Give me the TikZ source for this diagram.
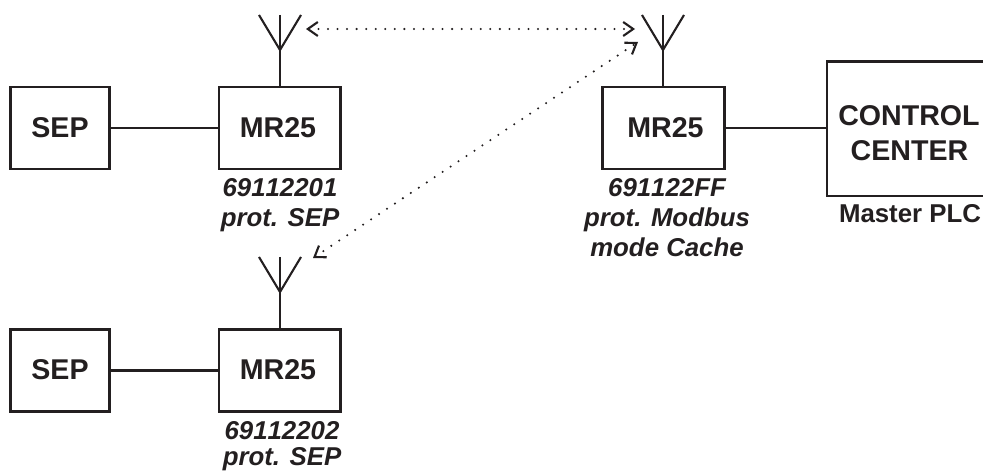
\documentclass[tikz,border=0pt]{standalone}
\usepackage{fontspec}
\setmainfont[Kerning=Off]{Liberation Sans}
\usetikzlibrary{arrows.meta}
\definecolor{ink}{HTML}{231F20}
\tikzset{
  px/.style={x=1bp,y=-1bp},
  wire/.style={draw=ink,line width=2.1bp},
  unit/.style={wire,inner sep=0pt,outer sep=0pt,anchor=north west},
  boxtext/.style={text=ink,font=\fontsize{28.6bp}{32bp}\selectfont\bfseries,inner sep=0pt,anchor=base},
  idtext/.style={text=ink,font=\fontsize{25.8bp}{29bp}\selectfont\bfseries\itshape,inner sep=0pt,anchor=base},
  plctext/.style={text=ink,font=\fontsize{25.8bp}{29bp}\selectfont\bfseries,inner sep=0pt,anchor=base},
  radio/.style={draw=ink,line width=2.3bp,line cap=round,dash pattern=on 0pt off 9.55bp,
    {Straight Barb[length=10bp,width=14bp,line width=2.1bp]}-{Straight Barb[length=10bp,width=14bp,line width=2.1bp]}},
}
\newcommand{\antenna}[3]{% name, x, base y
  \coordinate (#1base) at (#2,#3);
  \coordinate (#1top) at (#2,#3-35);
  \coordinate (#1l) at (#2-21,#3-35);
  \coordinate (#1r) at (#2+21,#3-35);
  \draw[wire] (#1l) -- (#1base) -- (#1r);
  \draw[wire] (#1top) -- (#1base);
}
\begin{document}
\begin{tikzpicture}[px]
\clip (0,0) rectangle (983,471);
\fill[white] (0,0) rectangle (983,471);
% boxes
\node[unit,minimum width=99bp,minimum height=82bp] (sepA) at (10.5,87) {};
\node[unit,minimum width=121.5bp,minimum height=82bp] (mrA) at (219,87) {};
\node[unit,minimum width=99bp,minimum height=82bp] (sepB) at (10.5,329.5) {};
\node[unit,minimum width=121.5bp,minimum height=82bp] (mrB) at (219,329.5) {};
\node[unit,minimum width=122bp,minimum height=82bp] (mrC) at (602.5,87) {};
\node[unit,minimum width=170bp,minimum height=134.5bp] (cc) at (827,61.5) {};
% antennas
\antenna{antA}{280}{50}
\antenna{antB}{280}{292}
\antenna{antC}{663}{50}
\draw[wire] (antAbase) -- (mrA.north west -| antAbase);
\draw[wire] (antBbase) -- (mrB.north west -| antBbase);
\draw[wire] (antCbase) -- (mrC.north west -| antCbase);
% links
\draw[wire] (sepA.east) -- (mrA.west);
\draw[wire] (sepB.east) -- (mrB.west);
\draw[wire] (mrC.east) -- (mrC.east -| cc.west);
% radio paths
\coordinate (r1) at (306,29);
\coordinate (r2) at (635,29);
\coordinate (r3) at (638,42);
\coordinate (r4) at (313,258);
\draw[radio] (r1) -- (r2);
\draw[radio] (r4) -- (r3);
% texts
\node[boxtext] (t1) at (60,138) {SEP};
\node[boxtext] (t2) at (278,138) {MR25};
\node[boxtext] (t3) at (60,379.5) {SEP};
\node[boxtext] (t4) at (278,379.5) {MR25};
\node[boxtext] (t5) at (665.5,138) {MR25};
\node[boxtext] (t6) at (909,126) {CONTROL};
\node[boxtext] (t7) at (909.5,160.5) {CENTER};
\node[plctext] (t8) at (910,222.5) {Master PLC};
\node[idtext] (i1) at (280,197) {69112201};
\node[idtext] (i2) at (280,226.5) {prot. SEP};
\node[idtext] (i3) at (282,439) {69112202};
\node[idtext] (i4) at (282,465.5) {prot. SEP};
\node[idtext] (i5) at (667,197) {691122FF};
\node[idtext] (i6) at (667,226.5) {prot. Modbus};
\node[idtext] (i7) at (667,256.5) {mode Cache};
\end{tikzpicture}
\end{document}
